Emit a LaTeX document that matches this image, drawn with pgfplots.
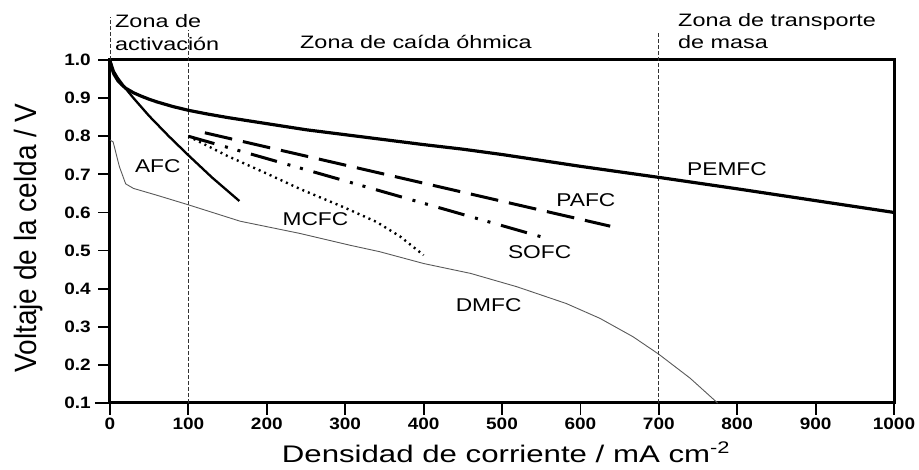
\documentclass[border=0pt]{standalone}
\usepackage{fontspec}
\setmainfont{Liberation Sans}
\newfontfamily\tickf{Liberation Sans}[FakeStretch=1.15]
\newfontfamily\zonef{Liberation Sans}[FakeStretch=1.3]
\newfontfamily\curvef{Liberation Sans}[FakeStretch=1.23]
\newfontfamily\xlabf{Liberation Sans}[FakeStretch=1.3]
\usepackage{pgfplots}
\pgfplotsset{compat=1.18}
\newcommand{\zfont}{\zonef\fontsize{18}{20}\selectfont}
\newcommand{\cfont}{\curvef\fontsize{18.5}{20}\selectfont}
\begin{document}
\begin{tikzpicture}
\begin{axis}[name=ax, scale only axis, width=784pt, height=343pt,
 xmin=0, xmax=1000, ymin=0.1, ymax=1.0,
 xtick={0,100,200,300,400,500,600,700,800,900,1000},
 ytick={0.1,0.2,0.3,0.4,0.5,0.6,0.7,0.8,0.9,1.0},
 tick pos=left, tick align=outside, major tick length=12pt,
 tick style={line width=1.8pt, black},
 axis line style={line width=3pt},
 clip=false,
 /pgf/number format/assume math mode=true,
 ticklabel style={font=\tickf\bfseries\fontsize{16.5}{17}\selectfont, inner sep=2pt},
 yticklabel style={xshift=-5pt, /pgf/number format/.cd, fixed, fixed zerofill, precision=1},
 xticklabel style={yshift=-1pt, /pgf/number format/.cd, fixed, precision=0, 1000 sep={}},
]
% zone separators
\draw[dash pattern=on 3.5pt off 2.5pt, line width=0.8pt, black!80] (axis cs:0,1.0) -- (axis cs:0,1.113);
\draw[dash pattern=on 3.5pt off 2.5pt, line width=0.8pt, black!80] (axis cs:100,0.1) -- (axis cs:100,1.079);
\draw[dash pattern=on 3.5pt off 2.5pt, line width=0.8pt, black!80] (axis cs:700,0.1) -- (axis cs:700,1.073);

% DMFC
\addplot[color=black!65, line width=0.9pt] coordinates {
(0,0.79)(4,0.785)(12,0.72)(20,0.675)(30,0.663)(60,0.645)(100,0.62)(166,0.577)
(242,0.545)(306,0.514)(344,0.497)(400,0.466)(460,0.44)(519,0.405)(582,0.361)
(625,0.322)(667,0.274)(700,0.228)(740,0.165)(775,0.10)};
% PEMFC
\addplot[black, line width=3.2pt] coordinates {
(0,1.0)(2,0.98)(5,0.963)(10,0.946)(15,0.935)(20,0.926)(30,0.914)(40,0.905)
(50,0.897)(60,0.89)(80,0.878)(100,0.868)(125,0.858)(150,0.849)(200,0.833)
(250,0.817)(300,0.804)(350,0.791)(400,0.778)(450,0.766)(500,0.752)(600,0.721)
(700,0.692)(800,0.662)(900,0.631)(1000,0.600)};
% AFC
\addplot[black, line width=2.3pt] coordinates {
(0,1.0)(5,0.97)(10,0.953)(20,0.925)(30,0.9)(50,0.853)(75,0.80)(100,0.75)
(130,0.692)(165,0.63)};
% MCFC
\addplot[black, line width=2.4pt, dash pattern=on 2pt off 4pt] coordinates {
(100,0.80)(150,0.748)(200,0.702)(242,0.662)(300,0.612)(340,0.575)(370,0.537)(400,0.488)};
% SOFC
\addplot[black, line width=3pt, dash pattern=on 27pt off 11pt on 3pt off 10pt on 3pt off 11pt] coordinates {
(100,0.80)(557,0.532)};
% PAFC
\addplot[black, line width=3pt, dash pattern=on 28pt off 11pt] coordinates {
(121,0.809)(638,0.564)};

\node[font=\cfont] at (axis cs:61,0.722) {AFC};
\node[font=\cfont] at (axis cs:262,0.583) {MCFC};
\node[font=\cfont] at (axis cs:607,0.633) {PAFC};
\node[font=\cfont] at (axis cs:548,0.496) {SOFC};
\node[font=\cfont] at (axis cs:787,0.714) {PEMFC};
\node[font=\cfont] at (axis cs:483,0.358) {DMFC};
\end{axis}
\draw[line width=2.5pt] ([xshift=-15pt]ax.south west) -- (ax.south west);
% zone labels
\node[anchor=base west, font=\zfont, inner sep=0pt] at ([shift={(5pt,32pt)}]ax.north west) {Zona de};
\node[anchor=base west, font=\zfont, inner sep=0pt] at ([shift={(5pt,9pt)}]ax.north west) {activación};
\node[anchor=base west, font=\zfont, inner sep=0pt] at ([shift={(190pt,11pt)}]ax.north west) {Zona de caída óhmica};
\node[anchor=base west, font=\zfont, inner sep=0pt] at ([shift={(568pt,33pt)}]ax.north west) {Zona de transporte};
\node[anchor=base west, font=\zfont, inner sep=0pt] at ([shift={(568pt,11pt)}]ax.north west) {de masa};
% axis labels
\node[anchor=base, inner sep=0pt] at ([shift={(4pt,-60pt)}]ax.south) {\xlabf\fontsize{24}{26}\selectfont Densidad de corriente / mA cm\textsuperscript{-2}};
\node[anchor=base, rotate=90, inner sep=0pt] at ([shift={(-73pt,-6.5pt)}]ax.west) {\scalebox{1}[1.1]{\fontsize{28}{30}\selectfont Voltaje de la celda / V}};
\pgfresetboundingbox
\path[use as bounding box] ([shift={(-110pt,-67pt)}]ax.south west) rectangle ([shift={(25pt,60pt)}]ax.north east);
\end{tikzpicture}
\end{document}
